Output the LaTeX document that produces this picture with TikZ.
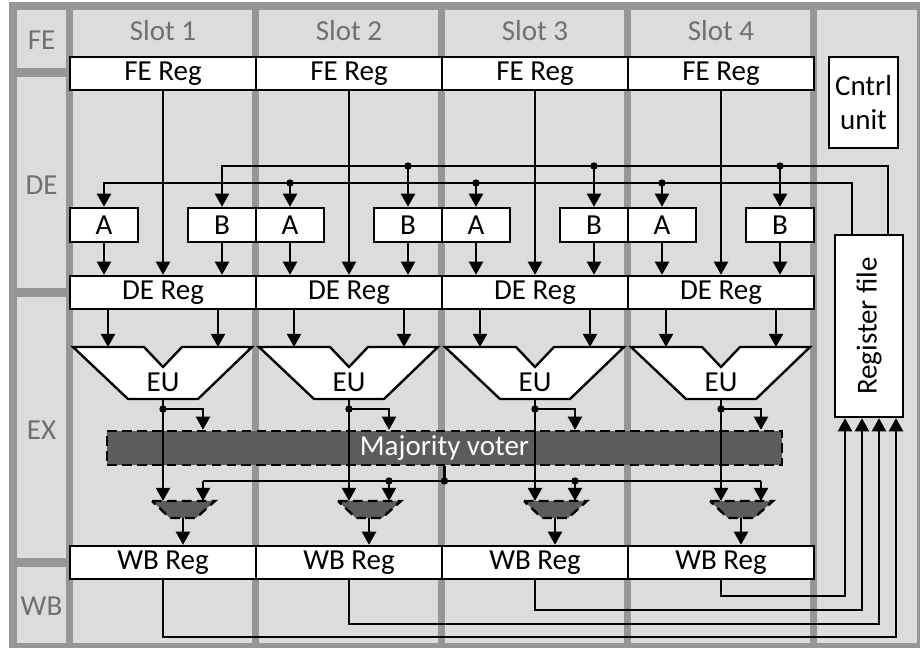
\documentclass[tikz,border=0pt]{standalone}
\usepackage{fontspec}
\setmainfont{Carlito}
\usetikzlibrary{arrows.meta,positioning,calc}

\definecolor{framegray}{RGB}{150,150,150}
\definecolor{panelgray}{RGB}{220,220,220}
\definecolor{votergray}{RGB}{92,92,92}
\definecolor{labelgray}{RGB}{112,112,112}

\begin{document}
\begin{tikzpicture}[x=0.02cm, y=-0.02cm, line width=1.35pt, >={Triangle[length=7.5pt, width=8pt]},
        font=\fontsize{16.5}{19.5}\selectfont]
        \tikzstyle{reg} = [rectangle, draw, fill=white, inner sep=0pt, minimum width=3.72cm, minimum height=0.66cm]
        \tikzstyle{opbox} = [rectangle, draw, fill=white, inner sep=0pt, minimum width=1.36cm, minimum height=0.68cm]
        \tikzstyle{stage} = [text=labelgray]
        \tikzstyle{dot} = [circle, fill, inner sep=0pt, minimum size=4.2pt]
        \tikzstyle{voted} = [draw, dash pattern=on 5.5pt off 3pt, fill=votergray]

        \useasboundingbox (0,0) rectangle (920,648);
        \fill[framegray] (9,2) rectangle (920,648);
        \fill[panelgray] (17,10) rectangle (66,68);
        \fill[panelgray] (17,77) rectangle (66,288);
        \fill[panelgray] (17,297) rectangle (66,558);
        \fill[panelgray] (17,567) rectangle (66,643);
        \fill[panelgray] (817,10) rectangle (917,643);
        \foreach \i in {0,...,3} {
            \fill[panelgray] (73+186*\i,10) rectangle (252+186*\i,643);
        }

        \node[stage] (lfe) at (41.5,40) {FE};
        \node[stage] (lde) at (41.5,185) {DE};
        \node[stage] (lex) at (41.5,430) {EX};
        \node[stage] (lwb) at (41.5,606) {WB};

        \node[reg, minimum width=1.38cm, minimum height=1.82cm, align=center] (cu) at (863.5,102.5) {Cntrl\\unit};
        \node[reg, minimum width=1.36cm, minimum height=3.64cm] (rf) at (869,326) {\rotatebox{90}{Register file}};
        \node[voted, text=white, inner sep=0pt, minimum width=13.5cm, minimum height=0.68cm] (voter) at (444.5,448) {Majority voter};

        \coordinate (ubus) at (0,166);
        \coordinate (lbus) at (0,183);
        \coordinate (vbus) at (0,481);

        \foreach \i in {1,...,4} {
            \pgfmathsetmacro{\cx}{163+186*(\i-1)}
            \node[stage] (slot\i) at (\cx,31) {Slot \i};
            \node[reg] (fe\i) at (\cx,73.5) {FE Reg};
            \node[reg] (de\i) at (\cx,292.5) {DE Reg};
            \node[reg] (wb\i) at (\cx,562.5) {WB Reg};
            \node[opbox] (a\i) at (\cx-59,225) {A};
            \node[opbox] (b\i) at (\cx+59,225) {B};

            \draw[fill=white] (\cx-90,347) -- (\cx-19,347) -- (\cx,367) -- (\cx+19,347) -- (\cx+89,347)
                -- (\cx+35,399) -- (\cx-35,399) -- cycle;
            \node (eu\i) at (\cx,382) {EU};
            \draw[voted] (\cx-11,501) -- (\cx+52,501) -- (\cx+33,518) -- (\cx+7,518) -- cycle;

            \coordinate (inl\i) at (\cx-55,347);
            \coordinate (inr\i) at (\cx+55,347);
            \coordinate (euout\i) at (\cx,399);
            \coordinate (tap\i) at (\cx,409);
            \coordinate (ml\i) at (\cx,501);
            \coordinate (mr\i) at (\cx+40,501);
            \coordinate (mout\i) at (\cx+20,518);

            \draw[->] (fe\i) -- (de\i);
            \draw[->] (a\i) -- (a\i |- de\i.north);
            \draw[->] (b\i) -- (b\i |- de\i.north);
            \draw[->] (de\i.south -| inl\i) -- (inl\i);
            \draw[->] (de\i.south -| inr\i) -- (inr\i);
            \draw[->] (euout\i) -- (ml\i);
            \draw[->] (tap\i) -| (voter.north -| mr\i);
            \node[dot] at (tap\i) {};
            \draw[->] (vbus -| mr\i) -- (mr\i);
            \draw[->] (mout\i) -- (wb\i.north -| mout\i);
        }

        \draw (vbus -| mr1) -- (vbus -| mr4);
        \draw (voter.south) -- (voter.south |- vbus);
        \node[dot] at (voter.south |- vbus) {};
        \node[dot] at (vbus -| mr2) {};
        \node[dot] at (vbus -| mr3) {};

        \coordinate (rfo1) at ($(rf.north)+(-17,0)$);
        \coordinate (rfo2) at ($(rf.north)+(19,0)$);
        \draw[->] (rfo2) |- (ubus -| b1) -- (b1);
        \draw[->] (rfo1) |- (lbus -| a1) -- (a1);
        \foreach \i in {2,3,4} {
            \draw[->] (ubus -| b\i) -- (b\i);
            \node[dot] at (ubus -| b\i) {};
            \draw[->] (lbus -| a\i) -- (a\i);
            \node[dot] at (lbus -| a\i) {};
        }

        \foreach \i/\xr/\yr in {4/845/596, 3/862/610, 2/879/624, 1/896/637} {
            \coordinate (ret\i) at (\xr,\yr);
            \draw[->] (wb\i.south) |- (ret\i) -- (rf.south -| ret\i);
        }
    \end{tikzpicture}
\end{document}
